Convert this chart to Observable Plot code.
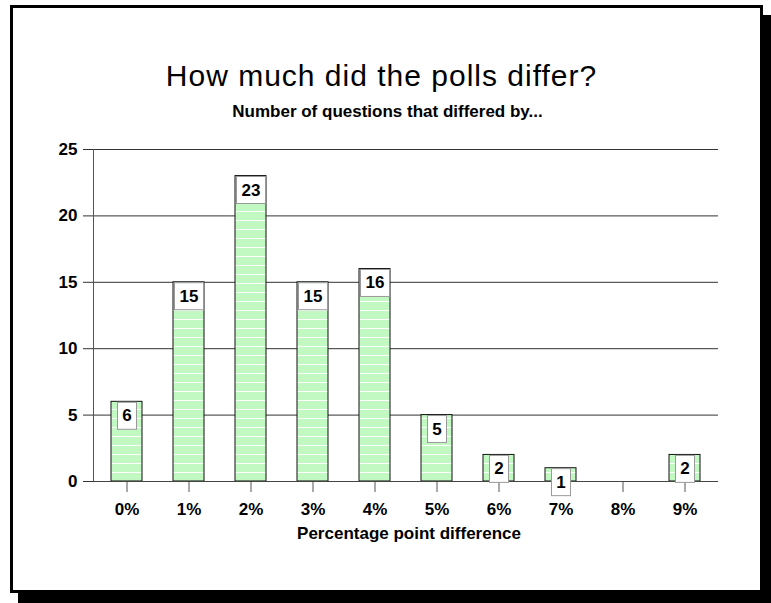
<!DOCTYPE html>
<html>
<head>
<meta charset="utf-8">
<script src="https://cdn.jsdelivr.net/npm/d3@7"></script>
<script src="https://cdn.jsdelivr.net/npm/@observablehq/plot@0.6"></script>
<style>
  html, body { margin: 0; padding: 0; background: #fff; }
  body { width: 771px; height: 603px; position: relative; overflow: hidden; font-family: "Liberation Sans", Arial, sans-serif; }
  #frame { position: absolute; left: 10px; top: 5px; width: 747px; height: 582px; border: 3px solid #000; box-shadow: 8px 10px 0 #000; background: #fff; }
  #chart { position: absolute; left: 0; top: 0; }
  .title { position: absolute; left: 0; width: 771px; text-align: center; color: #000; white-space: nowrap; }
  #t1 { top: 59px; font-size: 30px; letter-spacing: 1px; margin-left: -4px; }
  #t2 { top: 102px; font-size: 17px; font-weight: bold; margin-left: 2px; }
</style>
</head>
<body>
<div id="frame"></div>
<div id="chart"></div>
<div class="title" id="t1">How much did the polls differ?</div>
<div class="title" id="t2">Number of questions that differed by...</div>
<script>
const categories = ["0%", "1%", "2%", "3%", "4%", "5%", "6%", "7%", "8%", "9%"];
const counts = [6, 15, 23, 15, 16, 5, 2, 1, 0, 2];
const yTicks = [0, 5, 10, 15, 20, 25];
const xTitle = "Percentage point difference";

const data = categories.map((c, i) => ({cat: c, n: counts[i]}));
const bars = data.filter(d => d.n > 0);

const chart = Plot.plot({
  width: 771,
  height: 603,
  marginLeft: 93,
  marginRight: 53,
  marginTop: 149,
  marginBottom: 122,
  style: {fontFamily: "'Liberation Sans', Arial, sans-serif", fontWeight: "bold", fontSize: "17px", color: "#000", background: "transparent", overflow: "visible"},
  x: {domain: categories, paddingInner: 0.5, paddingOuter: 0.25},
  y: {domain: [0, 25]},
  marks: [
    Plot.gridY(yTicks, {stroke: "#333", strokeOpacity: 1, strokeWidth: 1}),
    Plot.barY(bars, {x: "cat", y: "n", fill: "url(#stripes)", stroke: "#111", strokeWidth: 1}),
    Plot.axisY({ticks: yTicks, tickSize: 10, tickPadding: 6, stroke: "#333", label: null, fontSize: 17}),
    Plot.axisX({tickSize: 11, tickPadding: 10, stroke: "#555", label: null, fontSize: 17}),
    Plot.frame({anchor: "left", stroke: "#555"}),
    Plot.ruleY([0], {stroke: "#444"}),
    Plot.text([xTitle], {frameAnchor: "bottom", dy: 57, dx: 3, fontSize: 17, fontWeight: "bold", fill: "#000"}),
    Plot.text(bars, {x: "cat", y: "n", text: d => String(d.n), dy: 14, fontSize: 17, fontWeight: "bold", fill: "#000", className: "vlabel"})
  ]
});

// striped pattern fill for the bars
const ns = "http://www.w3.org/2000/svg";
const defs = document.createElementNS(ns, "defs");
defs.innerHTML = `<pattern id="stripes" patternUnits="userSpaceOnUse" x="0" y="481" width="10" height="9">
  <rect width="10" height="9" fill="#c2f8c2"></rect>
  <rect y="0" width="10" height="1" fill="#ffffff"></rect>
</pattern>`;
chart.insertBefore(defs, chart.firstChild);
document.getElementById("chart").appendChild(chart);

// white boxes behind the value labels
chart.querySelectorAll("g.vlabel text").forEach(t => {
  const b = t.getBBox();
  const w = t.textContent.length > 1 ? 29 : 19;
  const cx = b.x + b.width / 2;
  const cy = b.y + b.height / 2;
  const r = document.createElementNS(ns, "rect");
  r.setAttribute("x", cx - w / 2);
  r.setAttribute("y", cy - 13.5);
  r.setAttribute("width", w);
  r.setAttribute("height", 27);
  r.setAttribute("fill", "#fff");
  r.setAttribute("stroke", "#999");
  if (t.getAttribute("transform")) r.setAttribute("transform", t.getAttribute("transform"));
  t.parentNode.insertBefore(r, t);
});
</script>
</body>
</html>
